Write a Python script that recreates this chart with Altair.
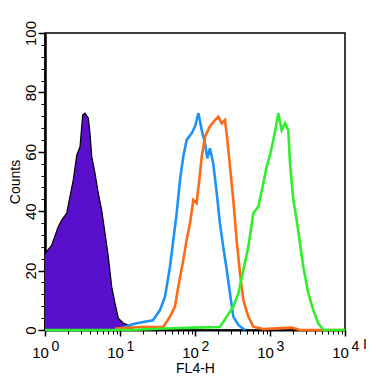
import altair as alt
import pandas as pd

# FL4-H values (x) and counts (y)
purple_x = [1.0, 1.02, 1.05, 1.23, 1.50, 1.67, 1.95, 2.15, 2.38, 2.65, 2.93, 3.18, 3.41, 3.78,
            3.98, 4.20, 4.64, 5.14, 5.70, 6.31, 6.98, 7.75, 8.58, 9.49, 11.1, 12.8, 14.9]
purple_y = [61, 26, 26.4, 28.6, 34.8, 37, 39.4, 44.9, 50.5, 58.9, 61.7, 72.4, 73, 71.4,
            66.3, 58.4, 52.8, 46, 40.4, 32.6, 24.7, 14.6, 9, 4, 2.3, 1.7, 0]

blue_x = [10.5, 13, 16.7, 27.5, 34.1, 39.8, 46.4, 51.4, 57.0, 63.1, 69.8, 77.4, 90.3, 100,
          111, 123, 136, 146, 158, 175, 195, 215, 238, 265, 293, 324, 378, 464]
blue_y = [0.5, 1.5, 2.3, 3.3, 6.7, 11.2, 21.3, 30.3, 39.4, 50.5, 58.4, 64, 66.2, 68.5,
          73, 67.3, 62.8, 57.8, 61.2, 56.1, 46, 35.9, 28, 20.2, 12.3, 4.5, 1.7, 0]

orange_x = [8.6, 18.5, 37.8, 46.4, 54.1, 59.9, 69.8, 77.4, 85.8, 94.9, 105, 114, 123, 136,
            158, 185, 205, 227, 251, 270, 293, 324, 359, 398, 441, 514, 599, 815, 1945,
            2512, 10000]
orange_y = [0.5, 1, 1, 4.5, 7.9, 14.6, 23.6, 30.3, 35.9, 43.8, 42.7, 50.5, 58.4, 65,
            68.5, 70.7, 71.8, 69.6, 70.7, 64, 55, 43.8, 30.3, 19.1, 10.1, 4.5, 1.1, 0.3, 0.8,
            0, 0]

green_x = [1.0, 14, 40, 100, 215, 265, 324, 378, 441, 514, 599, 698, 815, 903, 1000, 1108,
           1202, 1291, 1432, 1585, 1754, 1848, 2047, 2269, 2512, 2780, 3243, 3778, 4406,
           5139, 10000]
green_y = [0, 0, 0.5, 0.8, 1, 4.5, 7.9, 12.3, 20.2, 28, 39.3, 41.5, 49.4, 55, 58.9, 64,
           68.5, 73, 67.3, 69.6, 67.3, 56.1, 43.8, 37, 29.2, 21.3, 12.3, 6.7, 2.2,
           0, 0]

x_major = [1, 10, 100, 1000, 10000]
x_exponents = ["0", "1", "2", "3", "4"]
x_minor = [m * d for d in [1, 10, 100, 1000] for m in range(2, 10)]
y_major = [0, 20, 40, 60, 80, 100]
y_minor = list(range(0, 101, 4))

FONT = "Liberation Sans"

def frame(xs, ys, name):
    return pd.DataFrame({"x": xs, "y": ys, "s": name})

purple = frame(purple_x, purple_y, "purple")
blue = frame(blue_x, blue_y, "blue")
orange = frame(orange_x, orange_y, "orange")
green = frame(green_x, green_y, "green")

xscale = alt.Scale(type="log", domain=[1, 10000])
yscale = alt.Scale(domain=[0, 100])

exp_map = "{" + ",".join(f"{v}:'{e}'" for v, e in zip(x_major, x_exponents)) + "}"

x_major_axis = alt.Axis(orient="bottom", values=x_major, labelExpr="'10'", tickSize=6,
                        tickWidth=1.5, tickColor="black", domainColor="black", domainWidth=2,
                        labelFontSize=15, labelFont=FONT, labelColor="black",
                        labelBaseline="alphabetic", labelPadding=21, labelOffset=-5,
                        labelFlush=False, labelOverlap=False,
                        title="FL4-H", titleFont=FONT, titleFontSize=14, titleFontWeight="normal",
                        titleColor="black", titlePadding=1, grid=False)
x_exp_axis = alt.Axis(orient="bottom", values=x_major, labelExpr=exp_map + "[datum.value]",
                      tickSize=6, tickOpacity=0, domain=False, labelFontSize=14, labelFont=FONT,
                      labelColor="black", labelBaseline="alphabetic", labelPadding=14,
                      labelOffset=10, labelFlush=False, labelOverlap=False,
                      title=None, grid=False)
x_minor_axis = alt.Axis(orient="bottom", values=x_minor, labels=False, tickSize=4, tickWidth=1,
                        tickColor="black", domain=False, title=None, grid=False)
y_major_axis = alt.Axis(orient="left", values=y_major, tickSize=7, tickWidth=1.5,
                        tickColor="black", domainColor="black", domainWidth=2.5, labelAngle=-90,
                        labelAlign="center", labelBaseline="bottom", labelPadding=0,
                        labelFontSize=15, labelFont=FONT, labelColor="black", title="Counts",
                        titleFont=FONT, titleFontSize=14, titleFontWeight="normal",
                        titleColor="black", titlePadding=1, grid=False)
y_minor_axis = alt.Axis(orient="left", values=y_minor, labels=False, tickSize=4, tickWidth=1,
                        tickColor="black", domain=False, title=None, grid=False)

area = alt.Chart(purple).mark_area(color="#5a0fcc", opacity=1,
                                    line={"color": "black", "strokeWidth": 1.2},
                                    interpolate="linear").encode(
    x=alt.X("x:Q", scale=xscale, axis=x_major_axis),
    y=alt.Y("y:Q", scale=yscale, axis=y_major_axis),
)

minor = alt.Chart(purple).mark_point(opacity=0).encode(
    x=alt.X("x:Q", scale=xscale, axis=x_minor_axis),
    y=alt.Y("y:Q", scale=yscale, axis=y_minor_axis),
)

exps = alt.Chart(purple).mark_point(opacity=0).encode(
    x=alt.X("x:Q", scale=xscale, axis=x_exp_axis),
    y=alt.Y("y:Q", scale=yscale, axis=None),
)

def line(df, color):
    return alt.Chart(df).mark_line(color=color, strokeWidth=2.6, interpolate="linear").encode(
        x=alt.X("x:Q", scale=xscale, axis=None),
        y=alt.Y("y:Q", scale=yscale, axis=None),
    )

note = alt.Chart(pd.DataFrame({"t": ["I"]})).mark_text(
    font=FONT, fontSize=14, align="left", baseline="alphabetic", color="black").encode(
    x=alt.value(318), y=alt.value(316), text="t:N")

chart = alt.layer(
    minor, exps, area, line(blue, "#1f93f5"), line(orange, "#ff6a17"), line(green, "#2ef02a"), note
).resolve_axis(x="independent", y="independent").properties(
    width=300, height=297,
    autosize=alt.AutoSizeParams(type="none"),
    padding={"left": 37, "top": 25, "right": 23, "bottom": 44},
).configure_view(stroke="black", strokeWidth=1.5)

chart.save("out.html", embed_options={"renderer": "svg", "actions": False})
